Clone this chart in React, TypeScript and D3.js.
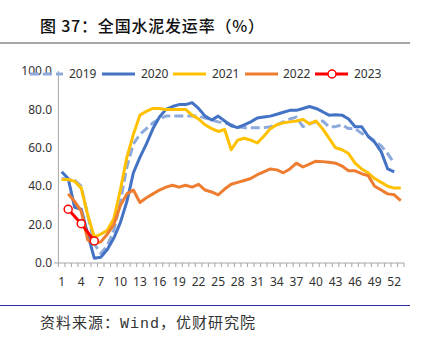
import React from "react";
import * as d3 from "d3";

const weeks: number[] = d3.range(1, 54);
const tickWeeks: number[] = [1, 4, 7, 10, 13, 16, 19, 22, 25, 28, 31, 34, 37, 40, 43, 46, 49, 52];
const yTicks: number[] = [0, 20, 40, 60, 80, 100];

const s2019: (number | null)[] = [44, 43.5, 43, 40, 25, 10, 5, 9, 17, 32, 50, 62, 67, 70, 73, 75, 76.5, 76.5, 76.5, 76.5, 76.5, 76.5, 75.5, 74.5, 73.5, 73, 72, 71, 70.5, 70.5, 70.5, 70.5, 71, 72, 73.5, 75, 76, 71, 72.5, 73.5, 74, 71, 71, 72, 70, 70, 67.5, 66, 63.5, 61, 57, 52, null];
const s2020: (number | null)[] = [47.5, 44, 29, 28, 15, 2.5, 3, 7, 13, 21, 32, 47, 55, 62, 70, 76, 80, 81.5, 82.5, 82.5, 83.5, 80.5, 76.5, 74.5, 76.5, 74, 71.5, 70.5, 72, 73.5, 75.5, 76, 76.5, 77.5, 78.5, 79.5, 79.5, 80.5, 81.5, 80.5, 78.8, 77, 77.2, 77, 75, 71, 71, 66, 63, 58, 49, 47.5, null];
const s2021: (number | null)[] = [43.5, 43.5, 42.5, 39, 25, 13.5, 15, 17, 23, 38, 55, 67, 77, 79, 80.5, 80.5, 80, 80, 80, 80, 77, 75, 72, 70, 68.5, 69.5, 59, 64, 65, 64, 62.5, 66, 70, 72, 73, 73.5, 74, 74.8, 72.5, 74, 70, 65, 60, 59, 57, 52, 49, 47, 44, 42, 40, 39, 39];
const s2022: (number | null)[] = [null, 36, 32, 27, 12, 10, 11, 15, 20, 30, 36, 38, 31.5, 34, 36, 38, 39.5, 40.5, 39.5, 40.5, 39.5, 41, 38, 37, 35.5, 38.5, 41, 42, 43, 44, 46, 47.5, 49, 48.5, 47, 49, 52, 50, 51.5, 53, 52.8, 52.5, 52, 50.5, 48, 48, 46.5, 45.5, 40, 38, 36, 35.5, 32.5];
const s2023: (number | null)[] = [null, 28, null, 20.5, null, 11.5];

const seriesNames: string[] = ["2019", "2020", "2021", "2022", "2023"];
const seriesColors: string[] = ["#8eaadc", "#4472c4", "#ffc000", "#ed7d31", "#ff0000"];

export default function App() {
  const W = 429, H = 339;
  const x0 = 58.4, x1 = 404, yBottom = 263, yTop = 71;
  const x = d3.scaleBand<number>().domain(weeks).range([x0, x1]);
  const xc = (w: number) => (x(w) as number) + x.bandwidth() / 2;
  const y = d3.scaleLinear().domain([0, 100]).range([yBottom, yTop]);

  const mkPts = (arr: (number | null)[]) =>
    arr.map((v, i) => ({ w: i + 1, v })).filter((p) => p.v !== null) as { w: number; v: number }[];
  const line = d3.line<{ w: number; v: number }>().x((p) => xc(p.w)).y((p) => y(p.v));

  const allSeries = [s2019, s2020, s2021, s2022, s2023];
  const font = "'Noto Sans', 'Open Sans', sans-serif";
  const boundaries = d3.range(0, weeks.length + 1).map((i) => x0 + i * x.step());

  const legendItems = [
    { lx: 30, tx: 69 },
    { lx: 102, tx: 141 },
    { lx: 173, tx: 212 },
    { lx: 245, tx: 283 },
    { lx: 315, tx: 354 },
  ];
  const legY = 74;

  return (
    <svg width={W} height={H} style={{ position: "absolute", left: 0, top: 0, background: "#fff" }}>
      <rect x={0} y={0} width={W} height={H} fill="#fff" />
      <text x={40} y={32} fontFamily="'Noto Sans CJK SC', sans-serif" fontSize={16} fontWeight={500} fill="#111" letterSpacing={0.8}>
        图 37：全国水泥发运率（%）
      </text>
      <line x1={0} x2={410} y1={43} y2={43} stroke="#8a8a8a" strokeWidth={1.5} />

      {/* y axis */}
      <line x1={x0} x2={x0} y1={yTop} y2={yBottom} stroke="#a6a6a6" strokeWidth={1} />
      {yTicks.map((t) => (
        <text key={t} x={52} y={y(t)} dy="0.35em" textAnchor="end" fontFamily={font} fontSize={12} fill="#333">
          {t.toFixed(1)}
        </text>
      ))}
      {/* x axis */}
      <line x1={54} x2={x1} y1={yBottom} y2={yBottom} stroke="#a6a6a6" strokeWidth={1} />
      {boundaries.map((bx, i) => (
        <line key={i} x1={bx} x2={bx} y1={yBottom} y2={yBottom + 4} stroke="#a6a6a6" strokeWidth={1} />
      ))}
      {tickWeeks.map((w) => (
        <text key={w} x={xc(w)} y={286} textAnchor="middle" fontFamily={font} fontSize={12} fill="#333">
          {w}
        </text>
      ))}

      {/* series */}
      {allSeries.map((s, i) => (
        <path
          key={i}
          d={line(mkPts(s)) || ""}
          fill="none"
          stroke={seriesColors[i]}
          strokeWidth={3}
          strokeLinejoin="round"
          strokeDasharray={i === 0 ? "9,4" : undefined}
        />
      ))}
      {mkPts(s2023).map((p) => (
        <circle key={p.w} cx={xc(p.w)} cy={y(p.v)} r={4} fill="#fff" stroke="#ff0000" strokeWidth={1.5} />
      ))}

      {/* legend */}
      {legendItems.map((it, i) => (
        <g key={i}>
          <line
            x1={it.lx}
            x2={it.lx + 33}
            y1={legY}
            y2={legY}
            stroke={seriesColors[i]}
            strokeWidth={3}
            strokeDasharray={i === 0 ? "9,4" : undefined}
          />
          {i === 4 && <circle cx={it.lx + 17} cy={legY} r={4} fill="#fff" stroke="#ff0000" strokeWidth={1.5} />}
          <text x={it.tx} y={legY} dy="0.35em" fontFamily={font} fontSize={12} fill="#333">
            {seriesNames[i]}
          </text>
        </g>
      ))}

      <line x1={0} x2={410} y1={305.5} y2={305.5} stroke="#2b2b9e" strokeWidth={1.2} />
      <text x={40} y={328} fontFamily="'Noto Sans CJK SC', sans-serif" fontSize={15} fill="#333" letterSpacing={1}>
        资料来源：<tspan fontFamily="'Liberation Mono', monospace">Wind</tspan>，优财研究院
      </text>
    </svg>
  );
}
